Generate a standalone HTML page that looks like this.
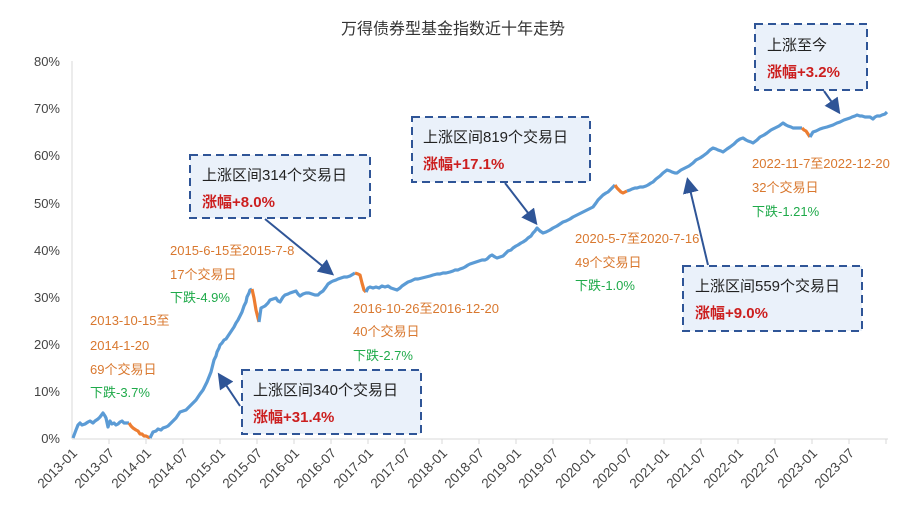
<!DOCTYPE html>
<html><head><meta charset="utf-8"><style>
body{margin:0;background:#fff;}
svg{display:block;font-family:"Liberation Sans","Noto Sans CJK SC",sans-serif;}
.o{fill:#d9782f;font-size:13px}
.g{fill:#1faa4a;font-size:13px}
.bt{fill:#222;font-size:15px}
.br{fill:#cc1f1f;font-size:15px;font-weight:bold}
.yl{fill:#444;font-size:13px;text-anchor:end}
.xl{fill:#444;font-size:13.5px;text-anchor:end}
.box{fill:#eaf1fa;stroke:#2f5597;stroke-width:2;stroke-dasharray:8,5}
</style></head><body>
<svg width="907" height="509" viewBox="0 0 907 509">
<defs><marker id="ar" markerWidth="8" markerHeight="8" refX="6" refY="4" orient="auto"><path d="M0,0 L8,4 L0,8 z" fill="#2f5597"/></marker></defs>
<text x="453" y="34" text-anchor="middle" font-size="16" fill="#333">万得债券型基金指数近十年走势</text>
<g>
<line x1="72" y1="61" x2="72" y2="439" stroke="#d9d9d9"/>
<line x1="72" y1="439" x2="888" y2="439" stroke="#d9d9d9"/>
<text class="yl" x="60" y="66">80%</text>
<text class="yl" x="60" y="113">70%</text>
<text class="yl" x="60" y="160">60%</text>
<text class="yl" x="60" y="208">50%</text>
<text class="yl" x="60" y="255">40%</text>
<text class="yl" x="60" y="302">30%</text>
<text class="yl" x="60" y="349">20%</text>
<text class="yl" x="60" y="396">10%</text>
<text class="yl" x="60" y="443">0%</text>
</g>
<g class="xl">
<text transform="translate(78,454) rotate(-45)">2013-01</text>
<text transform="translate(115,454) rotate(-45)">2013-07</text>
<text transform="translate(152,454) rotate(-45)">2014-01</text>
<text transform="translate(189,454) rotate(-45)">2014-07</text>
<text transform="translate(226,454) rotate(-45)">2015-01</text>
<text transform="translate(263,454) rotate(-45)">2015-07</text>
<text transform="translate(300,454) rotate(-45)">2016-01</text>
<text transform="translate(337,454) rotate(-45)">2016-07</text>
<text transform="translate(374,454) rotate(-45)">2017-01</text>
<text transform="translate(411,454) rotate(-45)">2017-07</text>
<text transform="translate(448,454) rotate(-45)">2018-01</text>
<text transform="translate(485,454) rotate(-45)">2018-07</text>
<text transform="translate(522,454) rotate(-45)">2019-01</text>
<text transform="translate(559,454) rotate(-45)">2019-07</text>
<text transform="translate(596,454) rotate(-45)">2020-01</text>
<text transform="translate(633,454) rotate(-45)">2020-07</text>
<text transform="translate(670,454) rotate(-45)">2021-01</text>
<text transform="translate(707,454) rotate(-45)">2021-07</text>
<text transform="translate(744,454) rotate(-45)">2022-01</text>
<text transform="translate(781,454) rotate(-45)">2022-07</text>
<text transform="translate(818,454) rotate(-45)">2023-01</text>
<text transform="translate(855,454) rotate(-45)">2023-07</text>
</g>
<g stroke="#d9d9d9">
<line x1="109" y1="439" x2="109" y2="444"/><line x1="146" y1="439" x2="146" y2="444"/><line x1="183" y1="439" x2="183" y2="444"/><line x1="220" y1="439" x2="220" y2="444"/><line x1="257" y1="439" x2="257" y2="444"/><line x1="294" y1="439" x2="294" y2="444"/><line x1="331" y1="439" x2="331" y2="444"/><line x1="368" y1="439" x2="368" y2="444"/><line x1="405" y1="439" x2="405" y2="444"/><line x1="442" y1="439" x2="442" y2="444"/><line x1="479" y1="439" x2="479" y2="444"/><line x1="516" y1="439" x2="516" y2="444"/><line x1="553" y1="439" x2="553" y2="444"/><line x1="590" y1="439" x2="590" y2="444"/><line x1="627" y1="439" x2="627" y2="444"/><line x1="664" y1="439" x2="664" y2="444"/><line x1="701" y1="439" x2="701" y2="444"/><line x1="738" y1="439" x2="738" y2="444"/><line x1="775" y1="439" x2="775" y2="444"/><line x1="812" y1="439" x2="812" y2="444"/><line x1="849" y1="439" x2="849" y2="444"/><line x1="886" y1="439" x2="886" y2="444"/>
</g>
<g fill="none" stroke-width="3.2" stroke-linejoin="round">
<polyline stroke="#5b9bd5" points="73,438 76,430 78,425 80,423 82,425 85,424 88,422 90,421 93,423 95,421 98,419 100,417 103,413 105,416 106,418 108,427 110,421 112,424 114,423 116,425 118,424 120,422 122,421 124,423 126,423 129,423"/>
<polyline stroke="#ed7d31" points="129,423 131,426 133,428 136,430 138,431 140,434 142,434 144,436 146,436 150,438"/>
<polyline stroke="#5b9bd5" points="150,438 153,432 156,431 158,429 161,430 163,428 166,427 168,426 170,424 172,422 174,420 176,418 178,415 180,412 183,411 186,410 189,407 191,405 194,402 196,400 198,397 200,394 203,390 205,386 207,382 209,377 211,372 212,368 213,364 214,360 216,356 217,352 219,348 220,345 222,343 224,340 226,339 228,336 230,333 232,330 234,327 236,323 238,320 240,316 242,312 244,306 246,302 247,297 249,293 250,290 252,289"/>
<polyline stroke="#ed7d31" points="252,289 254,298 256,310 259,322"/>
<polyline stroke="#5b9bd5" points="259,322 261,308 263,307 265,306 268,303 270,300 273,299 276,298 278,301 280,302 283,297 285,295 288,294 290,293 293,292 296,291 298,294 300,296 303,294 306,293 309,293 312,294 315,295 318,295 320,293 323,291 326,287 328,284 331,282 333,281 336,280 338,279 341,278 344,277 347,277 350,276 355,273"/>
<polyline stroke="#ed7d31" points="355,273 358,274 360,275 362,283 364,290 366,292"/>
<polyline stroke="#5b9bd5" points="366,292 368,288 370,287 373,288 376,287 379,288 382,286 385,287 388,286 391,288 394,289 397,290 400,288 402,286 405,284 408,282 411,281 415,279 418,279 422,278 426,277 430,276 433,275 437,274 440,274 443,273 446,273 450,272 453,271 455,270 458,270 460,269 463,268 465,267 468,265 470,264 473,263 476,262 479,261 482,260 485,260 487,259 490,256 492,255 495,257 497,258 500,257 503,256 506,253 508,251 511,250 513,248 516,246 518,245 521,243 523,242 526,240 528,238 531,236 533,233 535,231 537,228 540,231 543,233 546,232 550,230 553,228 557,226 560,224 563,222 566,221 570,219 573,217 577,215 581,213 585,211 589,209 593,207 596,203 598,200 601,197 603,195 606,193 608,192 610,190 612,188 615,185"/>
<polyline stroke="#ed7d31" points="615,185 617,188 619,190 621,192 623,193 625,192 627,191"/>
<polyline stroke="#5b9bd5" points="627,191 630,190 632,189 635,188 637,188 640,187 643,187 646,186 648,185 651,183 653,182 656,179 660,176 663,173 667,170 670,171 672,172 675,173 677,173 681,170 685,168 689,166 693,163 696,160 700,158 703,156 707,153 710,150 713,148 716,149 718,150 721,151 723,152 727,149 730,147 734,144 737,141 740,139 743,138 746,140 748,141 751,142 753,143 757,140 760,137 764,135 767,133 771,130 775,128 779,126 783,123 786,125 788,126 791,127 793,128 796,128 799,128 802,128"/>
<polyline stroke="#ed7d31" points="802,128 804,130 806,131 808,134 810,137"/>
<polyline stroke="#5b9bd5" points="810,137 813,132 816,131 820,129 823,128 827,127 830,126 833,125 837,123 840,122 844,120 847,119 850,118 852,117 855,116 857,115 860,116 862,116 865,117 867,117 870,117 873,119 875,117 877,116 880,116 882,115 885,114 887,112"/>
</g>
<g stroke="#2f5597" stroke-width="2" marker-end="url(#ar)">
<line x1="265" y1="219" x2="331" y2="273"/>
<line x1="240" y1="406" x2="220" y2="376"/>
<line x1="505" y1="183" x2="535" y2="222"/>
<line x1="708" y1="265" x2="688" y2="181"/>
<line x1="824" y1="91" x2="838" y2="111"/>
</g>
<rect class="box" x="190" y="155" width="180" height="63"/>
<text class="bt" x="202" y="180">上涨区间314个交易日</text>
<text class="br" x="202" y="207">涨幅+8.0%</text>
<rect class="box" x="242" y="370" width="179" height="64"/>
<text class="bt" x="253" y="395">上涨区间340个交易日</text>
<text class="br" x="253" y="422">涨幅+31.4%</text>
<rect class="box" x="412" y="117" width="178" height="65"/>
<text class="bt" x="423" y="142">上涨区间819个交易日</text>
<text class="br" x="423" y="169">涨幅+17.1%</text>
<rect class="box" x="683" y="266" width="179" height="65"/>
<text class="bt" x="695" y="291">上涨区间559个交易日</text>
<text class="br" x="695" y="318">涨幅+9.0%</text>
<rect class="box" x="755" y="24" width="112" height="66"/>
<text class="bt" x="767" y="50">上涨至今</text>
<text class="br" x="767" y="77">涨幅+3.2%</text>
<text class="o" x="170" y="255">2015-6-15至2015-7-8</text>
<text class="o" x="170" y="279">17个交易日</text>
<text class="g" x="170" y="302">下跌-4.9%</text>
<text class="o" x="90" y="325">2013-10-15至</text>
<text class="o" x="90" y="350">2014-1-20</text>
<text class="o" x="90" y="374">69个交易日</text>
<text class="g" x="90" y="397">下跌-3.7%</text>
<text class="o" x="353" y="313">2016-10-26至2016-12-20</text>
<text class="o" x="353" y="336">40个交易日</text>
<text class="g" x="353" y="360">下跌-2.7%</text>
<text class="o" x="575" y="243">2020-5-7至2020-7-16</text>
<text class="o" x="575" y="267">49个交易日</text>
<text class="g" x="575" y="290">下跌-1.0%</text>
<text class="o" x="752" y="168">2022-11-7至2022-12-20</text>
<text class="o" x="752" y="192">32个交易日</text>
<text class="g" x="752" y="216">下跌-1.21%</text>
</svg>
</body></html>
